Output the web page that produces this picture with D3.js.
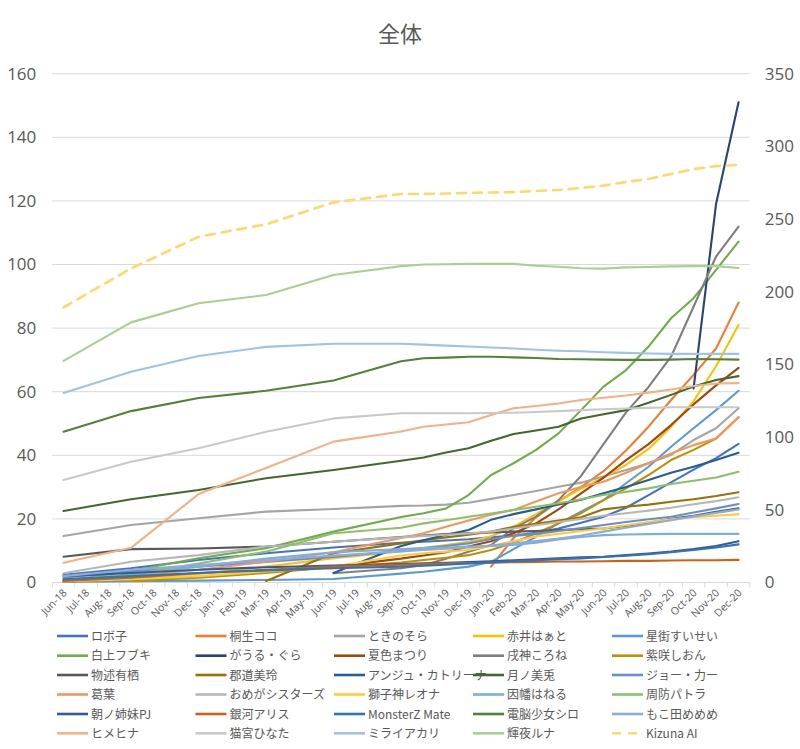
<!DOCTYPE html>
<html>
<head>
<meta charset="utf-8">
<script src="https://cdn.jsdelivr.net/npm/d3@7"></script>
<style>
  html, body { margin: 0; padding: 0; background: #fff; }
  svg { display: block; }
  text { font-family: "Noto Sans CJK JP", "Noto Sans", sans-serif; fill: #595959; }
</style>
</head>
<body>
<div id="chart"></div>
<script>
// ---------- DATA ----------
const months = ["Jun-18","Jul-18","Aug-18","Sep-18","Oct-18","Nov-18","Dec-18","Jan-19","Feb-19","Mar-19","Apr-19","May-19","Jun-19","Jul-19","Aug-19","Sep-19","Oct-19","Nov-19","Dec-19","Jan-20","Feb-20","Mar-20","Apr-20","May-20","Jun-20","Jul-20","Aug-20","Sep-20","Oct-20","Nov-20","Dec-20"];
// months that carry a data point (quarterly early, then monthly)
const dataMonths = ["Jun-18","Sep-18","Dec-18","Mar-19","Jun-19","Sep-19","Oct-19","Nov-19","Dec-19","Jan-20","Feb-20","Mar-20","Apr-20","May-20","Jun-20","Jul-20","Aug-20","Sep-20","Oct-20","Nov-20","Dec-20"];

const leftTicks = [0,20,40,60,80,100,120,140,160];
const rightTicks = [0,50,100,150,200,250,300,350];

const roboco   = [2.4,4.5,7.1,9.2,11.0,12.5,12.8,13.2,13.6,14.2,14.8,15.6,17.0,18.8,20.7,23.5,27.5,31.5,35.5,39.1,43.6];
const coco     = [null,null,null,null,null,null,null,null,null,5.0,14.0,20.5,25.5,30.0,35.0,41.5,49.0,57.4,65.3,73.6,88.0];
const sora     = [14.6,18.1,20.2,22.3,23.1,24.1,24.2,24.5,25.1,26.3,27.5,28.8,30.1,31.4,33.3,35.4,37.5,40.1,44.8,48.5,54.8];
const haato    = [0.5,1.3,2.7,5.0,7.6,9.8,10.8,11.8,12.8,14.5,17.5,21.5,25.5,29.5,33.0,37.0,42.0,49.0,57.0,68.0,81.0];
const suisei   = [0.2,0.4,0.6,0.8,1.1,2.8,3.4,4.2,5.0,6.5,10.5,14.4,18.6,22.3,25.9,31.2,36.4,42.7,48.5,54.2,60.3];
const fubuki   = [0.3,3.7,7.6,10.8,16.0,20.6,21.8,23.3,27.5,33.8,37.5,41.7,46.9,54.2,61.6,66.8,74.2,83.1,89.4,98.3,107.2];
const gura     = [null,null,null,null,null,null,null,null,null,null,null,null,null,null,null,null,null,null,61.0,119.0,151.0];
const matsuri  = [0.3,1.0,1.8,3.4,5.0,7.5,8.5,9.5,11.3,13.0,15.5,18.6,23.0,28.0,33.0,38.5,43.5,49.5,56.0,62.0,67.5];
const korone   = [null,null,null,null,2.9,4.5,5.5,7.5,9.7,11.8,17.0,20.7,25.9,33.5,43.5,53.5,61.5,71.0,86.7,102.5,111.9];
const shion    = [null,0.5,1.5,3.0,4.8,6.3,7.1,7.8,8.6,10.2,12.5,15.5,18.6,21.8,25.9,29.6,33.8,38.5,41.7,45.3,52.0];
const alice    = [8.1,10.5,10.7,11.3,12.8,14.3,14.8,15.2,15.5,15.7,16.0,16.2,16.5,16.8,17.0,17.8,18.8,20.0,21.0,22.2,23.3];
const mirei    = [null,null,null,0.5,9.2,12.3,13.3,14.2,15.0,16.0,17.5,18.5,19.5,20.5,23.0,23.8,24.5,25.4,26.2,27.2,28.4];
const ange     = [null,null,null,null,3.0,11.5,13.3,15.0,16.5,19.7,21.5,23.0,24.5,26.0,28.1,30.0,32.2,34.5,36.4,38.5,40.8];
const mito     = [22.5,26.2,29.1,32.8,35.4,38.3,39.3,40.9,42.2,44.6,46.7,47.8,49.0,51.6,52.9,54.2,56.5,59.0,61.6,63.7,64.9];
const joe      = [1.5,3.5,5.0,6.5,8.0,10.0,10.8,11.5,12.3,13.7,14.6,15.3,16.2,17.1,18.1,19.0,19.9,20.7,22.0,23.3,24.7];
const kuzuha   = [1.0,2.0,4.0,6.5,9.5,14.0,15.5,17.5,19.5,21.3,22.8,25.5,28.1,30.0,31.7,34.5,37.5,40.6,43.2,45.3,52.0];
const omega    = [2.9,6.5,8.6,11.3,12.8,14.2,14.6,15.0,15.4,16.0,17.0,18.0,19.0,20.0,21.0,21.8,22.6,23.5,24.6,25.6,26.8];
const leona    = [0.3,1.0,2.0,3.5,5.0,8.5,9.2,9.7,10.2,11.5,13.0,14.5,15.3,16.2,17.0,18.0,19.0,19.9,20.5,21.0,21.5];
const haneru   = [0.8,2.5,5.0,7.5,9.5,10.5,10.8,11.0,11.3,11.5,11.8,12.5,13.5,14.3,14.9,15.1,15.2,15.3,15.3,15.3,15.3];
const patra    = [0.8,2.4,6.0,9.7,15.5,17.2,18.6,19.6,20.7,21.7,22.8,23.8,24.9,26.2,27.5,28.5,29.6,31.0,32.0,33.0,34.8];
const asano    = [2.0,3.0,4.0,4.8,5.3,5.8,6.0,6.2,6.4,6.7,7.0,7.3,7.6,7.9,8.1,8.6,9.1,9.7,10.5,11.5,13.0];
const ginga    = [0.5,1.5,3.0,4.0,5.0,5.6,5.8,6.0,6.1,6.2,6.4,6.5,6.6,6.6,6.7,6.8,6.8,6.9,7.0,7.0,7.1];
const monsterz = [1.0,2.0,3.0,3.8,4.5,5.0,5.3,5.6,6.0,6.3,6.7,7.0,7.3,7.6,8.0,8.4,8.9,9.5,10.2,11.0,12.0];
const siro     = [47.4,53.9,58.0,60.3,63.5,69.6,70.5,70.7,71.0,71.0,70.8,70.6,70.3,70.2,70.1,70.0,70.0,70.1,70.3,70.2,70.1];
const mememe   = [2.0,4.0,5.5,7.0,8.5,9.8,10.2,10.6,11.0,11.6,12.3,13.0,13.8,14.8,16.0,17.2,18.4,19.6,20.8,21.9,23.0];
const himehina = [6.2,10.9,27.8,36.0,44.3,47.5,49.0,49.7,50.4,52.7,54.8,55.5,56.3,57.4,58.1,58.8,59.7,60.7,61.8,62.6,62.7];
const hinata   = [32.2,38.0,42.2,47.4,51.6,53.2,53.2,53.2,53.2,53.3,53.4,53.6,53.9,54.2,54.5,54.7,54.9,55.1,55.1,55.1,55.1];
const akari    = [59.6,66.3,71.2,74.1,75.1,75.1,74.8,74.5,74.2,73.9,73.6,73.2,72.9,72.7,72.4,72.2,72.0,71.9,71.9,71.9,71.9];
const luna     = [69.7,81.8,87.8,90.4,96.7,99.5,100.0,100.1,100.2,100.2,100.2,99.6,99.3,98.8,98.7,99.1,99.2,99.4,99.5,99.5,98.9];
const kizuna   = [189.2,216.0,237.8,246.4,261.5,267.2,267.3,267.6,268.0,268.3,268.6,269.3,270.0,271.4,273.0,275.5,277.6,281.0,284.4,286.4,287.3];

const seriesNames = ["ロボ子","桐生ココ","ときのそら","赤井はぁと","星街すいせい","白上フブキ","がうる・ぐら","夏色まつり","戌神ころね","紫咲しおん","物述有栖","郡道美玲","アンジュ・カトリーナ","月ノ美兎","ジョー・力ー","葛葉","おめがシスターズ","獅子神レオナ","因幡はねる","周防パトラ","朝ノ姉妹PJ","銀河アリス","MonsterZ Mate","電脳少女シロ","もこ田めめめ","ヒメヒナ","猫宮ひなた","ミライアカリ","輝夜ルナ","Kizuna AI"];
const seriesValues = [roboco,coco,sora,haato,suisei,fubuki,gura,matsuri,korone,shion,alice,mirei,ange,mito,joe,kuzuha,omega,leona,haneru,patra,asano,ginga,monsterz,siro,mememe,himehina,hinata,akari,luna,kizuna];
const seriesColors = ["#4472C4","#ED7D31","#A5A5A5","#FFC000","#5B9BD5","#70AD47","#264478","#9E480E","#7F7F7F","#BF9000","#595959","#997300","#255E91","#43682B","#698ED0","#F1975A","#B7B7B7","#FFCD33","#7CAFDD","#8CC168","#335AA1","#D26012","#2E75B6","#548235","#8FAADC","#F4B183","#C9C9C9","#9DC3E6","#A9D18E","#FFD966"];
const secondaryAxisSeries = ["Kizuna AI"];

// ---------- CHART ----------
const W = 800, H = 749;
const plot = {left: 52.3, right: 749.8, top: 73.7, bottom: 582.5};

const svg = d3.select("#chart").append("svg").attr("width", W).attr("height", H);

const x = d3.scaleBand().domain(months).range([plot.left, plot.right]).padding(0);
const xc = m => x(m) + x.bandwidth() / 2;
const yL = d3.scaleLinear().domain([0, 160]).range([plot.bottom, plot.top]);
const yR = d3.scaleLinear().domain([0, 350]).range([plot.bottom, plot.top]);

// title
svg.append("text").attr("x", 400).attr("y", 42).attr("text-anchor", "middle")
  .style("font-size", "22px").text("全体");

// gridlines
svg.append("g").selectAll("line").data(leftTicks.filter(t => t > 0)).join("line")
  .attr("x1", plot.left).attr("x2", plot.right)
  .attr("y1", d => yL(d)).attr("y2", d => yL(d))
  .attr("stroke", "#D9D9D9").attr("stroke-width", 1);

// left axis
const gL = svg.append("g").attr("transform", `translate(${plot.left},0)`)
  .call(d3.axisLeft(yL).tickValues(leftTicks).tickSize(0).tickPadding(16));
gL.select(".domain").remove();
gL.selectAll("text").style("font-size", "17px").style("font-family", "'Open Sans', 'Noto Sans', sans-serif").attr("fill", "#595959");

// right axis
const gR = svg.append("g").attr("transform", `translate(${plot.right},0)`)
  .call(d3.axisRight(yR).tickValues(rightTicks).tickSize(0).tickPadding(15));
gR.select(".domain").remove();
gR.selectAll("text").style("font-size", "17px").style("font-family", "'Open Sans', 'Noto Sans', sans-serif").attr("fill", "#595959");

// bottom axis with ticks at category boundaries
const gX = svg.append("g").attr("transform", `translate(0,${plot.bottom})`);
gX.append("line").attr("x1", plot.left).attr("x2", plot.right).attr("y1", 0).attr("y2", 0)
  .attr("stroke", "#D9D9D9").attr("stroke-width", 1);
const boundaries = months.map(m => x(m)).concat([plot.right]);
gX.selectAll("line.tk").data(boundaries).join("line").attr("class", "tk")
  .attr("x1", d => d).attr("x2", d => d).attr("y1", 0).attr("y2", 5)
  .attr("stroke", "#D9D9D9").attr("stroke-width", 1);
gX.selectAll("text").data(months).join("text")
  .attr("transform", d => `translate(${xc(d) + 4},${11}) rotate(-45)`)
  .attr("text-anchor", "end")
  .style("font-size", "10.5px")
  .style("font-family", "'Open Sans', 'Noto Sans', sans-serif")
  .text(d => d);

// lines
const series = seriesNames.map((name, i) => ({
  name, color: seriesColors[i],
  secondary: secondaryAxisSeries.includes(name),
  points: dataMonths.map((m, j) => ({m, v: seriesValues[i][j]})).filter(p => p.v !== null)
}));

const gLines = svg.append("g");
series.forEach(s => {
  const yS = s.secondary ? yR : yL;
  const line = d3.line().x(p => xc(p.m)).y(p => yS(p.v)).curve(d3.curveLinear);
  gLines.append("path").datum(s.points)
    .attr("d", line)
    .attr("fill", "none")
    .attr("stroke", s.color)
    .attr("stroke-width", s.secondary ? 2.6 : 2.1)
    .attr("stroke-linejoin", "round")
    .attr("stroke-linecap", "round")
    .attr("stroke-dasharray", s.secondary ? "9,7" : null);
});

// legend
const legCols = [57, 195.5, 334, 473, 612];
const legRows = [636, 655.7, 675, 694.5, 714, 733.3];
const gLeg = svg.append("g");
series.forEach((s, i) => {
  const c = i % 5, r = Math.floor(i / 5);
  const lx = legCols[c], ly = legRows[r];
  gLeg.append("line").attr("x1", lx).attr("x2", lx + 31).attr("y1", ly).attr("y2", ly)
    .attr("stroke", s.color).attr("stroke-width", s.secondary ? 2.6 : 2.6)
    .attr("stroke-dasharray", s.secondary ? "9,7" : null);
  gLeg.append("text").attr("x", lx + 34).attr("y", ly + 4.5)
    .style("font-size", "12px").text(s.name);
});
</script>
</body>
</html>
